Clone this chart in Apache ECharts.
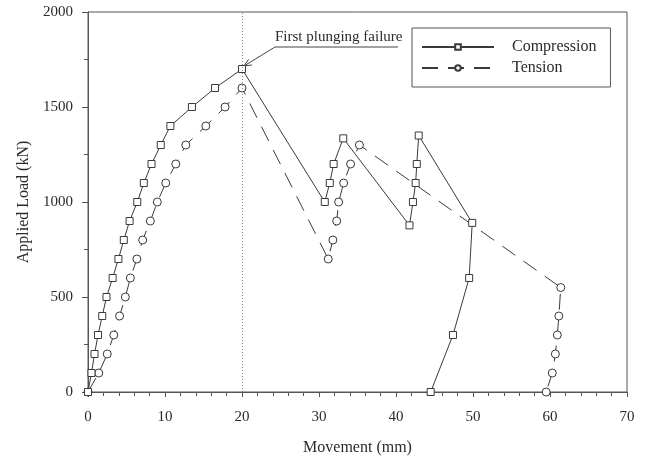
<!DOCTYPE html>
<html>
<head>
<meta charset="utf-8">
<script src="https://cdn.jsdelivr.net/npm/echarts@6/dist/echarts.min.js"></script>
<style>
  html, body { margin: 0; padding: 0; background: #fff; }
  #chart { width: 646px; height: 457px; }
</style>
</head>
<body>
<div id="chart"></div>
<script>
// Load–movement response of the pile under compression and tension loading
const seriesNames = ['Compression', 'Tension'];

const compressionMovement = [0, 0.45, 0.85, 1.3, 1.85, 2.4, 3.2, 3.95, 4.65, 5.4, 6.4, 7.25, 8.25, 9.45, 10.7, 13.5, 16.5, 20,
  30.75, 31.4, 31.9, 33.15,
  41.75, 42.2, 42.55, 42.7, 42.95,
  49.9, 49.5, 47.4, 44.5];
const compressionLoad = [0, 100, 200, 300, 400, 500, 600, 700, 800, 900, 1000, 1100, 1200, 1300, 1400, 1500, 1600, 1700,
  1000, 1100, 1200, 1335,
  877, 1000, 1100, 1200, 1350,
  890, 600, 300, 0];

const tensionMovement = [0, 1.4, 2.5, 3.35, 4.1, 4.85, 5.5, 6.35, 7.1, 8.1, 9.0, 10.1, 11.4, 12.7, 15.3, 17.8, 20,
  31.2, 31.8, 32.3, 32.55, 33.2, 34.1, 35.25,
  61.4, 61.15, 60.95, 60.7, 60.3, 59.5];
const tensionLoad = [0, 100, 200, 300, 400, 500, 600, 700, 800, 900, 1000, 1100, 1200, 1300, 1400, 1500, 1600,
  700, 800, 900, 1000, 1100, 1200, 1300,
  550, 400, 300, 200, 100, 0];

const failureMovement = 20;           // first plunging failure
const failurePoint = [20, 1700];
const annotationText = 'First plunging failure';
const xAxisTitle = 'Movement (mm)';
const yAxisTitle = 'Applied Load (kN)';

const FONT = '"Liberation Serif", "Times New Roman", serif';
const INK = '#2b2b2b';
const AXIS = '#555';

const pairs = (xs, ys) => xs.map((x, i) => [x, ys[i]]);
const plain = (v) => String(v);

const chart = echarts.init(document.getElementById('chart'), null, { renderer: 'canvas' });

chart.setOption({
  animation: false,
  backgroundColor: '#fff',
  grid: {
    left: 88, right: 19, top: 12, bottom: 65,
    containLabel: false, outerBoundsMode: 'none',
    show: true, borderColor: AXIS, borderWidth: 1
  },
  xAxis: {
    type: 'value', min: 0, max: 70, interval: 10,
    name: xAxisTitle, nameLocation: 'middle', nameGap: 48,
    nameTextStyle: { fontFamily: FONT, fontSize: 16, color: INK },
    axisLine: { lineStyle: { color: AXIS, width: 1 } },
    axisTick: { show: true, inside: false, length: 5, lineStyle: { color: AXIS } },
    minorTick: { show: true, splitNumber: 5, length: 4, lineStyle: { color: AXIS } },
    axisLabel: { fontFamily: FONT, fontSize: 15, color: INK, margin: 18, formatter: plain },
    splitLine: { show: false }
  },
  yAxis: {
    type: 'value', min: 0, max: 2000, interval: 500,
    name: yAxisTitle, nameLocation: 'middle', nameGap: 56, nameRotate: 90,
    nameTextStyle: { fontFamily: FONT, fontSize: 16, color: INK },
    axisLine: { show: true, lineStyle: { color: AXIS, width: 1 } },
    axisTick: { show: true, inside: false, length: 6, lineStyle: { color: AXIS } },
    minorTick: { show: true, splitNumber: 2, length: 4, lineStyle: { color: AXIS } },
    axisLabel: { fontFamily: FONT, fontSize: 15, color: INK, margin: 15, formatter: plain },
    splitLine: { show: false }
  },
  legend: {
    orient: 'vertical', left: 412, top: 28,
    padding: [11, 14, 11, 9],
    itemWidth: 72, itemHeight: 7, itemGap: 5,
    borderColor: AXIS, borderWidth: 1,
    textStyle: { fontFamily: FONT, fontSize: 16, color: INK, padding: [0, 0, 0, 13] },
    data: seriesNames
  },
  series: [
    {
      name: seriesNames[0], type: 'line',
      data: pairs(compressionMovement, compressionLoad),
      symbol: 'rect', symbolSize: 7, showAllSymbol: true,
      lineStyle: { color: '#3a3a3a', width: 1 },
      itemStyle: { color: '#fff', borderColor: '#3a3a3a', borderWidth: 1 },
      z: 3,
      markLine: {
        silent: true, symbol: ['none', 'none'], label: { show: false },
        lineStyle: { type: [1, 2], color: '#888', width: 1 },
        data: [{ xAxis: failureMovement }]
      }
    },
    {
      name: seriesNames[1], type: 'line',
      data: pairs(tensionMovement, tensionLoad),
      symbol: 'circle', symbolSize: 8, showAllSymbol: true,
      lineStyle: { color: '#3a3a3a', width: 1, type: [16, 10] },
      itemStyle: { color: '#fff', borderColor: '#3a3a3a', borderWidth: 1 },
      z: 2
    }
  ]
});

// Leader line and open arrowhead for the failure annotation
const tip = chart.convertToPixel({ gridIndex: 0 }, failurePoint);
const tx = tip[0] + 2, ty = tip[1] - 3;
const elbow = [tx + 31, ty - 19];
const lineEnd = [elbow[0] + 123, elbow[1]];
const dx = elbow[0] - tx, dy = elbow[1] - ty;
const len = Math.hypot(dx, dy);
const ux = dx / len, uy = dy / len;
const headLen = 8, spread = 0.42;
const rot = (a) => [ux * Math.cos(a) - uy * Math.sin(a), ux * Math.sin(a) + uy * Math.cos(a)];
const h1 = rot(spread), h2 = rot(-spread);

chart.setOption({
  graphic: [
    {
      type: 'polyline', silent: true,
      shape: { points: [[tx, ty], elbow, lineEnd] },
      style: { stroke: '#444', lineWidth: 1, fill: null }
    },
    {
      type: 'polyline', silent: true,
      shape: { points: [[tx + h1[0] * headLen, ty + h1[1] * headLen], [tx, ty], [tx + h2[0] * headLen, ty + h2[1] * headLen]] },
      style: { stroke: '#444', lineWidth: 1, fill: null }
    },
    {
      type: 'text', silent: true,
      x: elbow[0], y: elbow[1] - 2,
      style: { text: annotationText, font: '15px ' + FONT, fill: INK, textVerticalAlign: 'bottom', textAlign: 'left' }
    }
  ]
});
</script>
</body>
</html>
